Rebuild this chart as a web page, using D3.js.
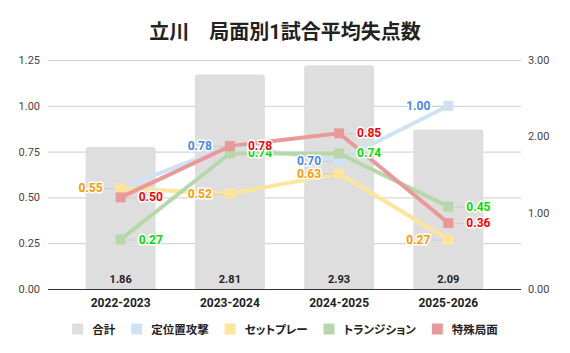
<!DOCTYPE html>
<html>
<head>
<meta charset="utf-8">
<script src="https://cdn.jsdelivr.net/npm/d3@7"></script>
<style>
  body { margin: 0; background: #fff; }
  text { font-family: Roboto, "Noto Sans CJK JP", sans-serif; }
</style>
</head>
<body>
<div id="container"></div>
<script>
// DATA
const seasons = ["2022-2023", "2023-2024", "2024-2025", "2025-2026"];
const totals = [1.86, 2.81, 2.93, 2.09];
const setPosition = [0.55, 0.78, 0.70, 1.00];
const setPiece = [0.55, 0.52, 0.63, 0.27];
const transition = [0.27, 0.74, 0.74, 0.45];
const special = [0.50, 0.78, 0.85, 0.36];
const leftTicks = [0, 0.25, 0.5, 0.75, 1.0, 1.25];
const rightTicks = [0, 1, 2, 3];

const series = [
  { name: "定位置攻撃", values: setPosition, color: "#cfe2f3", text: "#4a86e8", side: "left", showFirst: false },
  { name: "セットプレー", values: setPiece, color: "#ffe599", text: "#ff9900", side: "left", showFirst: true },
  { name: "トランジション", values: transition, color: "#b6d7a8", text: "#00e000", side: "right", showFirst: true },
  { name: "特殊局面", values: special, color: "#ea9999", text: "#ff0000", side: "right", showFirst: true }
];

const width = 570, height = 353;
const plot = { left: 48, right: 521, top: 60, bottom: 289 };

const svg = d3.select("#container")
  .append("svg")
  .attr("width", width)
  .attr("height", height);

// SCALES
const xScale = d3.scalePoint()
  .domain(seasons)
  .range([plot.left, plot.right])
  .padding(0.665);

const yLeft = d3.scaleLinear().domain([0, 1.25]).range([plot.bottom, plot.top]);
const yRight = d3.scaleLinear().domain([0, 3]).range([plot.bottom, plot.top]);

// title
svg.append("text")
  .attr("x", 285)
  .attr("y", 39)
  .attr("text-anchor", "middle")
  .attr("font-size", "20px")
  .attr("font-weight", "bold")
  .attr("fill", "#222")
  .text("立川　局面別1試合平均失点数");

// gridlines
svg.append("g")
  .selectAll("line")
  .data(leftTicks.filter(d => d > 0))
  .enter()
  .append("line")
  .attr("x1", plot.left)
  .attr("x2", plot.right)
  .attr("y1", d => yLeft(d) + 0.5)
  .attr("y2", d => yLeft(d) + 0.5)
  .attr("stroke", "#cccccc");

// left axis labels
svg.append("g")
  .selectAll("text")
  .data(leftTicks)
  .enter()
  .append("text")
  .attr("x", 40)
  .attr("y", d => yLeft(d) + 4)
  .attr("text-anchor", "end")
  .attr("font-size", "11px")
  .attr("fill", "#444")
  .text(d => d3.format(".2f")(d));

// right axis labels
svg.append("g")
  .selectAll("text")
  .data(rightTicks)
  .enter()
  .append("text")
  .attr("x", 528)
  .attr("y", d => yRight(d) + 4)
  .attr("font-size", "11px")
  .attr("fill", "#444")
  .text(d => d3.format(".2f")(d));

// bars (total, right axis)
const barW = 70, r = 3;
svg.append("g")
  .selectAll("path")
  .data(totals)
  .enter()
  .append("path")
  .attr("fill", "#dedede")
  .attr("d", (d, i) => {
    const x0 = xScale(seasons[i]) - barW / 2, x1 = x0 + barW;
    const y0 = yRight(d), y1 = yRight(0);
    return `M${x0},${y1}V${y0 + r}Q${x0},${y0} ${x0 + r},${y0}H${x1 - r}Q${x1},${y0} ${x1},${y0 + r}V${y1}Z`;
  });

svg.append("g")
  .selectAll("text")
  .data(totals)
  .enter()
  .append("text")
  .attr("x", (d, i) => xScale(seasons[i]))
  .attr("y", 283)
  .attr("text-anchor", "middle")
  .attr("font-size", "11px")
  .attr("font-weight", "bold")
  .attr("fill", "#222")
  .text(d => d.toFixed(2));

// baseline
svg.append("line")
  .attr("x1", plot.left)
  .attr("x2", plot.right)
  .attr("y1", plot.bottom + 0.5)
  .attr("y2", plot.bottom + 0.5)
  .attr("stroke", "#333");

// x labels
svg.append("g")
  .selectAll("text")
  .data(seasons)
  .enter()
  .append("text")
  .attr("x", d => xScale(d))
  .attr("y", 307)
  .attr("text-anchor", "middle")
  .attr("font-size", "12px")
  .attr("font-weight", "bold")
  .attr("fill", "#222")
  .text(d => d);

// lines
const line = d3.line()
  .x((d, i) => xScale(seasons[i]))
  .y(d => yLeft(d));

const labelLayer = svg.append("g");

series.forEach(s => {
  const g = svg.append("g");
  g.append("path")
    .datum(s.values)
    .attr("fill", "none")
    .attr("stroke", s.color)
    .attr("stroke-width", 4)
    .attr("d", line);

  g.selectAll("rect")
    .data(s.values)
    .enter()
    .append("rect")
    .attr("x", (d, i) => xScale(seasons[i]) - 5)
    .attr("y", d => yLeft(d) - 5)
    .attr("width", 10)
    .attr("height", 10)
    .attr("fill", s.color);

  const dir = s.side === "left" ? -1 : 1;
  s.values.forEach((v, i) => {
    if (i === 0 && !s.showFirst) return;
    const cx = xScale(seasons[i]), cy = yLeft(v);
    labelLayer.append("line")
      .attr("x1", cx + dir * 6)
      .attr("x2", cx + dir * 16)
      .attr("y1", cy + 0.5)
      .attr("y2", cy + 0.5)
      .attr("stroke", "#cccccc");
    labelLayer.append("text")
      .attr("x", cx + dir * 18)
      .attr("y", cy + 4)
      .attr("text-anchor", s.side === "left" ? "end" : "start")
      .attr("font-size", "12px")
      .attr("font-weight", "bold")
      .attr("fill", s.text)
      .attr("stroke", "#fff")
      .attr("stroke-width", 3)
      .attr("paint-order", "stroke")
      .attr("stroke-linejoin", "round")
      .text(v.toFixed(2));
  });
});
labelLayer.raise();

// legend
const legendItems = [{ name: "合計", color: "#dedede" }].concat(series.map(s => ({ name: s.name, color: s.color })));
const legend = svg.append("g");
const legendGap = 16;
let lx = 0;
legendItems.forEach(item => {
  const g = legend.append("g").attr("transform", `translate(${lx},0)`);
  g.append("rect")
    .attr("x", 0).attr("y", -5.5)
    .attr("width", 11).attr("height", 11)
    .attr("fill", item.color);
  const t = g.append("text")
    .attr("x", 20)
    .attr("y", 4.5)
    .attr("font-size", "11.5px")
    .attr("font-weight", "bold")
    .attr("fill", "#222")
    .style("font-feature-settings", "'palt'")
    .text(item.name);
  lx += 20 + t.node().getComputedTextLength() + legendGap;
});
const legendW = lx - legendGap;
legend.attr("transform", `translate(${285 - legendW / 2},329)`);
</script>
</body>
</html>
